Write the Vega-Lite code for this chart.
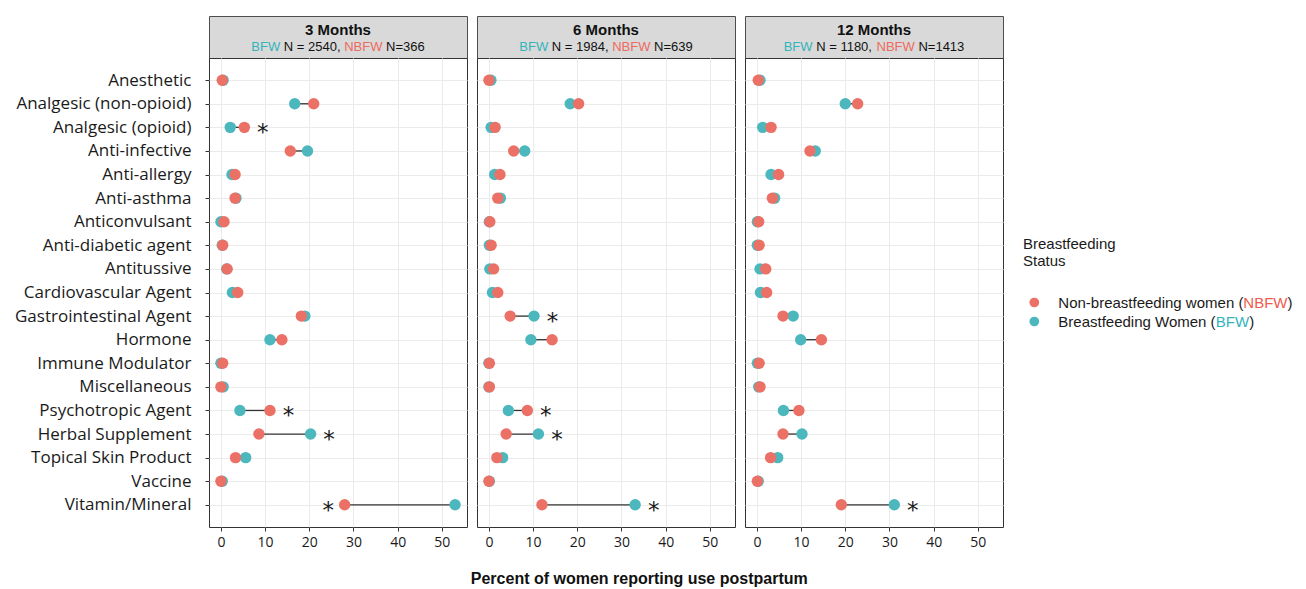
{
  "$schema": "https://vega.github.io/schema/vega-lite/v6.json",
  "background": "white",
  "padding": {"left": 13, "top": 15, "right": 4, "bottom": 0},
  "bounds": "full",
  "spacing": 8,
  "title": {"text": "Percent of women reporting use postpartum", "orient": "bottom", "anchor": "middle", "frame": "bounds", "font": "Liberation Sans", "fontSize": 16, "fontWeight": "bold", "color": "#111111", "offset": 21, "dx": -14},
  "resolve": {"scale": {"x": "independent", "y": "independent", "color": "independent"}},
  "datasets": {
    "d": [
      {"period": "3 Months", "category": "Anesthetic", "BFW": 0.5, "NBFW": 0.3, "star": ""},
      {"period": "3 Months", "category": "Analgesic (non-opioid)", "BFW": 16.7, "NBFW": 21.0, "star": ""},
      {"period": "3 Months", "category": "Analgesic (opioid)", "BFW": 2.1, "NBFW": 5.3, "star": "right"},
      {"period": "3 Months", "category": "Anti-infective", "BFW": 19.6, "NBFW": 15.7, "star": ""},
      {"period": "3 Months", "category": "Anti-allergy", "BFW": 2.5, "NBFW": 3.2, "star": ""},
      {"period": "3 Months", "category": "Anti-asthma", "BFW": 3.4, "NBFW": 3.2, "star": ""},
      {"period": "3 Months", "category": "Anticonvulsant", "BFW": 0.0, "NBFW": 0.7, "star": ""},
      {"period": "3 Months", "category": "Anti-diabetic agent", "BFW": 0.3, "NBFW": 0.4, "star": ""},
      {"period": "3 Months", "category": "Antitussive", "BFW": 1.3, "NBFW": 1.4, "star": ""},
      {"period": "3 Months", "category": "Cardiovascular Agent", "BFW": 2.6, "NBFW": 3.8, "star": ""},
      {"period": "3 Months", "category": "Gastrointestinal Agent", "BFW": 19.0, "NBFW": 18.2, "star": ""},
      {"period": "3 Months", "category": "Hormone", "BFW": 11.1, "NBFW": 13.8, "star": ""},
      {"period": "3 Months", "category": "Immune Modulator", "BFW": 0.0, "NBFW": 0.4, "star": ""},
      {"period": "3 Months", "category": "Miscellaneous", "BFW": 0.5, "NBFW": 0.0, "star": ""},
      {"period": "3 Months", "category": "Psychotropic Agent", "BFW": 4.3, "NBFW": 11.1, "star": "right"},
      {"period": "3 Months", "category": "Herbal Supplement", "BFW": 20.3, "NBFW": 8.6, "star": "right"},
      {"period": "3 Months", "category": "Topical Skin Product", "BFW": 5.6, "NBFW": 3.3, "star": ""},
      {"period": "3 Months", "category": "Vaccine", "BFW": 0.3, "NBFW": 0.0, "star": ""},
      {"period": "3 Months", "category": "Vitamin/Mineral", "BFW": 53.0, "NBFW": 28.0, "star": "left"},
      {"period": "6 Months", "category": "Anesthetic", "BFW": 0.45, "NBFW": 0.0, "star": ""},
      {"period": "6 Months", "category": "Analgesic (non-opioid)", "BFW": 18.4, "NBFW": 20.3, "star": ""},
      {"period": "6 Months", "category": "Analgesic (opioid)", "BFW": 0.5, "NBFW": 1.4, "star": ""},
      {"period": "6 Months", "category": "Anti-infective", "BFW": 8.1, "NBFW": 5.6, "star": ""},
      {"period": "6 Months", "category": "Anti-allergy", "BFW": 1.3, "NBFW": 2.5, "star": ""},
      {"period": "6 Months", "category": "Anti-asthma", "BFW": 2.6, "NBFW": 2.0, "star": ""},
      {"period": "6 Months", "category": "Anticonvulsant", "BFW": 0.1, "NBFW": 0.2, "star": ""},
      {"period": "6 Months", "category": "Anti-diabetic agent", "BFW": 0.1, "NBFW": 0.5, "star": ""},
      {"period": "6 Months", "category": "Antitussive", "BFW": 0.2, "NBFW": 1.05, "star": ""},
      {"period": "6 Months", "category": "Cardiovascular Agent", "BFW": 0.8, "NBFW": 2.0, "star": ""},
      {"period": "6 Months", "category": "Gastrointestinal Agent", "BFW": 10.2, "NBFW": 4.8, "star": "right"},
      {"period": "6 Months", "category": "Hormone", "BFW": 9.5, "NBFW": 14.3, "star": ""},
      {"period": "6 Months", "category": "Immune Modulator", "BFW": 0.0, "NBFW": 0.1, "star": ""},
      {"period": "6 Months", "category": "Miscellaneous", "BFW": 0.0, "NBFW": 0.1, "star": ""},
      {"period": "6 Months", "category": "Psychotropic Agent", "BFW": 4.4, "NBFW": 8.7, "star": "right"},
      {"period": "6 Months", "category": "Herbal Supplement", "BFW": 11.2, "NBFW": 3.9, "star": "right"},
      {"period": "6 Months", "category": "Topical Skin Product", "BFW": 3.1, "NBFW": 1.8, "star": ""},
      {"period": "6 Months", "category": "Vaccine", "BFW": 0.1, "NBFW": 0.0, "star": ""},
      {"period": "6 Months", "category": "Vitamin/Mineral", "BFW": 33.1, "NBFW": 12.0, "star": "right"},
      {"period": "12 Months", "category": "Anesthetic", "BFW": 0.7, "NBFW": 0.3, "star": ""},
      {"period": "12 Months", "category": "Analgesic (non-opioid)", "BFW": 20.0, "NBFW": 22.8, "star": ""},
      {"period": "12 Months", "category": "Analgesic (opioid)", "BFW": 1.3, "NBFW": 3.2, "star": ""},
      {"period": "12 Months", "category": "Anti-infective", "BFW": 13.2, "NBFW": 12.0, "star": ""},
      {"period": "12 Months", "category": "Anti-allergy", "BFW": 3.2, "NBFW": 4.9, "star": ""},
      {"period": "12 Months", "category": "Anti-asthma", "BFW": 4.0, "NBFW": 3.5, "star": ""},
      {"period": "12 Months", "category": "Anticonvulsant", "BFW": 0.1, "NBFW": 0.4, "star": ""},
      {"period": "12 Months", "category": "Anti-diabetic agent", "BFW": 0.1, "NBFW": 0.5, "star": ""},
      {"period": "12 Months", "category": "Antitussive", "BFW": 0.7, "NBFW": 2.0, "star": ""},
      {"period": "12 Months", "category": "Cardiovascular Agent", "BFW": 0.8, "NBFW": 2.2, "star": ""},
      {"period": "12 Months", "category": "Gastrointestinal Agent", "BFW": 8.2, "NBFW": 5.9, "star": ""},
      {"period": "12 Months", "category": "Hormone", "BFW": 9.9, "NBFW": 14.6, "star": ""},
      {"period": "12 Months", "category": "Immune Modulator", "BFW": 0.1, "NBFW": 0.5, "star": ""},
      {"period": "12 Months", "category": "Miscellaneous", "BFW": 0.4, "NBFW": 0.7, "star": ""},
      {"period": "12 Months", "category": "Psychotropic Agent", "BFW": 6.0, "NBFW": 9.5, "star": ""},
      {"period": "12 Months", "category": "Herbal Supplement", "BFW": 10.2, "NBFW": 5.9, "star": ""},
      {"period": "12 Months", "category": "Topical Skin Product", "BFW": 4.7, "NBFW": 3.1, "star": ""},
      {"period": "12 Months", "category": "Vaccine", "BFW": 0.3, "NBFW": 0.1, "star": ""},
      {"period": "12 Months", "category": "Vitamin/Mineral", "BFW": 31.1, "NBFW": 19.1, "star": "right"}
    ],
    "hdr": [
      {"period": "3 Months", "line": "title", "part": "title", "text": "3 Months"},
      {"period": "3 Months", "line": "sub", "part": "bfw", "text": "BFW"},
      {"period": "3 Months", "line": "sub", "part": "n1", "text": "N = 2540,"},
      {"period": "3 Months", "line": "sub", "part": "nbfw", "text": "NBFW"},
      {"period": "3 Months", "line": "sub", "part": "n2", "text": "N=366"},
      {"period": "6 Months", "line": "title", "part": "title", "text": "6 Months"},
      {"period": "6 Months", "line": "sub", "part": "bfw", "text": "BFW"},
      {"period": "6 Months", "line": "sub", "part": "n1", "text": "N = 1984,"},
      {"period": "6 Months", "line": "sub", "part": "nbfw", "text": "NBFW"},
      {"period": "6 Months", "line": "sub", "part": "n2", "text": "N=639"},
      {"period": "12 Months", "line": "title", "part": "title", "text": "12 Months"},
      {"period": "12 Months", "line": "sub", "part": "bfw", "text": "BFW"},
      {"period": "12 Months", "line": "sub", "part": "n1", "text": "N = 1180,"},
      {"period": "12 Months", "line": "sub", "part": "nbfw", "text": "NBFW"},
      {"period": "12 Months", "line": "sub", "part": "n2", "text": "N=1413"}
    ],
    "leg": [
      {"group": "NBFW"},
      {"group": "BFW"}
    ]
  },
  "hconcat": [
    {
      "bounds": "flush", "spacing": 0,
      "resolve": {"scale": {"x": "independent", "y": "independent"}},
      "vconcat": [
        {
          "width": 258, "height": 42,
          "view": {"fill": "#d9d9d9", "stroke": "#4d4d4d", "strokeWidth": 1},
          "data": {"name": "hdr"},
          "transform": [{"filter": "datum.period == '3 Months'"}],
          "encoding": {"y": {"field": "line", "type": "nominal", "scale": {"type": "point", "domain": ["title", "sub"], "padding": 0.757}, "axis": null}, "text": {"field": "text", "type": "nominal"}},
          "layer": [
            {"transform": [{"filter": "datum.part == 'title'"}], "mark": {"type": "text", "font": "Liberation Sans", "fontSize": 15, "fontWeight": "bold", "color": "#111111", "baseline": "middle", "align": "center", "dy": 1.4}},
            {"transform": [{"filter": "datum.part == 'bfw'"}], "mark": {"type": "text", "font": "Liberation Sans", "fontSize": 13, "color": "#33b4bb", "baseline": "middle", "align": "left", "dx": -86.7, "dy": 1.4}},
            {"transform": [{"filter": "datum.part == 'n1'"}], "mark": {"type": "text", "font": "Liberation Sans", "fontSize": 13, "color": "#111111", "baseline": "middle", "align": "left", "dx": -54.2, "dy": 1.4}},
            {"transform": [{"filter": "datum.part == 'nbfw'"}], "mark": {"type": "text", "font": "Liberation Sans", "fontSize": 13, "color": "#ee6a5e", "baseline": "middle", "align": "left", "dx": 6.15, "dy": 1.4}},
            {"transform": [{"filter": "datum.part == 'n2'"}], "mark": {"type": "text", "font": "Liberation Sans", "fontSize": 13, "color": "#111111", "baseline": "middle", "align": "left", "dx": 48.03, "dy": 1.4}}
          ]
        },
        {
          "width": 258, "height": 469,
          "view": {"stroke": "#333333", "strokeWidth": 1},
          "data": {"name": "d"},
          "transform": [{"filter": "datum.period == '3 Months'"}, {"fold": ["BFW", "NBFW"], "as": ["group", "value"]}],
          "encoding": {
            "y": {"field": "category", "type": "nominal",
              "scale": {"type": "point", "padding": 0.94, "domain": ["Anesthetic", "Analgesic (non-opioid)", "Analgesic (opioid)", "Anti-infective", "Anti-allergy", "Anti-asthma", "Anticonvulsant", "Anti-diabetic agent", "Antitussive", "Cardiovascular Agent", "Gastrointestinal Agent", "Hormone", "Immune Modulator", "Miscellaneous", "Psychotropic Agent", "Herbal Supplement", "Topical Skin Product", "Vaccine", "Vitamin/Mineral"]},
              "axis": {"title": null, "labelFont": "Open Sans", "labelFontSize": 17, "labelColor": "#1a1a1a", "tickSize": 4, "tickColor": "#333333", "labelPadding": 14, "domain": false, "grid": true, "gridColor": "#ebebeb", "gridWidth": 1, "labelLimit": 400}}
          },
          "layer": [
            {"mark": {"type": "rule", "color": "#333333", "strokeWidth": 1.3},
              "encoding": {
                "x": {"aggregate": "min", "field": "value", "type": "quantitative", "scale": {"domain": [-2.7, 55.7], "nice": false, "zero": false},
                  "axis": {"title": null, "values": [0, 10, 20, 30, 40, 50], "labelFont": "Open Sans", "labelFontSize": 14, "labelColor": "#1a1a1a", "tickSize": 4, "tickColor": "#333333", "labelPadding": 4, "domain": false, "grid": true, "gridColor": "#ebebeb", "gridWidth": 1, "labelFlush": false}},
                "x2": {"aggregate": "max", "field": "value"}}},
            {"mark": {"type": "point", "filled": true, "size": 130, "opacity": 1},
              "encoding": {
                "x": {"field": "value", "type": "quantitative", "scale": {"domain": [-2.7, 55.7], "nice": false, "zero": false},
                  "axis": {"title": null, "values": [0, 10, 20, 30, 40, 50], "labelFont": "Open Sans", "labelFontSize": 14, "labelColor": "#1a1a1a", "tickSize": 4, "tickColor": "#333333", "labelPadding": 4, "domain": false, "grid": true, "gridColor": "#ebebeb", "gridWidth": 1, "labelFlush": false}},
                "color": {"field": "group", "type": "nominal", "scale": {"domain": ["NBFW", "BFW"], "range": ["#eb7167", "#4cb8be"]}, "legend": null}}},
            {"transform": [{"filter": "datum.star == 'right'"}],
              "mark": {"type": "text", "text": "*", "font": "DejaVu Sans", "fontSize": 23, "color": "#1a1a1a", "align": "center", "baseline": "alphabetic", "dx": 18.5, "dy": 13},
              "encoding": {"x": {"aggregate": "max", "field": "value", "type": "quantitative", "scale": {"domain": [-2.7, 55.7], "nice": false, "zero": false}, "axis": {"title": null, "values": [0, 10, 20, 30, 40, 50], "labelFont": "Open Sans", "labelFontSize": 14, "labelColor": "#1a1a1a", "tickSize": 4, "tickColor": "#333333", "labelPadding": 4, "domain": false, "grid": true, "gridColor": "#ebebeb", "gridWidth": 1, "labelFlush": false}}}},
            {"transform": [{"filter": "datum.star == 'left'"}],
              "mark": {"type": "text", "text": "*", "font": "DejaVu Sans", "fontSize": 23, "color": "#1a1a1a", "align": "center", "baseline": "alphabetic", "dx": -16.5, "dy": 13},
              "encoding": {"x": {"aggregate": "min", "field": "value", "type": "quantitative", "scale": {"domain": [-2.7, 55.7], "nice": false, "zero": false}, "axis": {"title": null, "values": [0, 10, 20, 30, 40, 50], "labelFont": "Open Sans", "labelFontSize": 14, "labelColor": "#1a1a1a", "tickSize": 4, "tickColor": "#333333", "labelPadding": 4, "domain": false, "grid": true, "gridColor": "#ebebeb", "gridWidth": 1, "labelFlush": false}}}}
          ]
        }
      ]
    },
    {
      "bounds": "flush", "spacing": 0,
      "resolve": {"scale": {"x": "independent", "y": "independent"}},
      "vconcat": [
        {
          "width": 258, "height": 42,
          "view": {"fill": "#d9d9d9", "stroke": "#4d4d4d", "strokeWidth": 1},
          "data": {"name": "hdr"},
          "transform": [{"filter": "datum.period == '6 Months'"}],
          "encoding": {"y": {"field": "line", "type": "nominal", "scale": {"type": "point", "domain": ["title", "sub"], "padding": 0.757}, "axis": null}, "text": {"field": "text", "type": "nominal"}},
          "layer": [
            {"transform": [{"filter": "datum.part == 'title'"}], "mark": {"type": "text", "font": "Liberation Sans", "fontSize": 15, "fontWeight": "bold", "color": "#111111", "baseline": "middle", "align": "center", "dy": 1.4}},
            {"transform": [{"filter": "datum.part == 'bfw'"}], "mark": {"type": "text", "font": "Liberation Sans", "fontSize": 13, "color": "#33b4bb", "baseline": "middle", "align": "left", "dx": -86.7, "dy": 1.4}},
            {"transform": [{"filter": "datum.part == 'n1'"}], "mark": {"type": "text", "font": "Liberation Sans", "fontSize": 13, "color": "#111111", "baseline": "middle", "align": "left", "dx": -54.2, "dy": 1.4}},
            {"transform": [{"filter": "datum.part == 'nbfw'"}], "mark": {"type": "text", "font": "Liberation Sans", "fontSize": 13, "color": "#ee6a5e", "baseline": "middle", "align": "left", "dx": 6.15, "dy": 1.4}},
            {"transform": [{"filter": "datum.part == 'n2'"}], "mark": {"type": "text", "font": "Liberation Sans", "fontSize": 13, "color": "#111111", "baseline": "middle", "align": "left", "dx": 48.03, "dy": 1.4}}
          ]
        },
        {
          "width": 258, "height": 469,
          "view": {"stroke": "#333333", "strokeWidth": 1},
          "data": {"name": "d"},
          "transform": [{"filter": "datum.period == '6 Months'"}, {"fold": ["BFW", "NBFW"], "as": ["group", "value"]}],
          "encoding": {
            "y": {"field": "category", "type": "nominal",
              "scale": {"type": "point", "padding": 0.94, "domain": ["Anesthetic", "Analgesic (non-opioid)", "Analgesic (opioid)", "Anti-infective", "Anti-allergy", "Anti-asthma", "Anticonvulsant", "Anti-diabetic agent", "Antitussive", "Cardiovascular Agent", "Gastrointestinal Agent", "Hormone", "Immune Modulator", "Miscellaneous", "Psychotropic Agent", "Herbal Supplement", "Topical Skin Product", "Vaccine", "Vitamin/Mineral"]},
              "axis": {"title": null, "labels": false, "ticks": false, "domain": false, "grid": true, "gridColor": "#ebebeb", "gridWidth": 1}}
          },
          "layer": [
            {"mark": {"type": "rule", "color": "#333333", "strokeWidth": 1.3},
              "encoding": {
                "x": {"aggregate": "min", "field": "value", "type": "quantitative", "scale": {"domain": [-2.7, 55.7], "nice": false, "zero": false},
                  "axis": {"title": null, "values": [0, 10, 20, 30, 40, 50], "labelFont": "Open Sans", "labelFontSize": 14, "labelColor": "#1a1a1a", "tickSize": 4, "tickColor": "#333333", "labelPadding": 4, "domain": false, "grid": true, "gridColor": "#ebebeb", "gridWidth": 1, "labelFlush": false}},
                "x2": {"aggregate": "max", "field": "value"}}},
            {"mark": {"type": "point", "filled": true, "size": 130, "opacity": 1},
              "encoding": {
                "x": {"field": "value", "type": "quantitative", "scale": {"domain": [-2.7, 55.7], "nice": false, "zero": false},
                  "axis": {"title": null, "values": [0, 10, 20, 30, 40, 50], "labelFont": "Open Sans", "labelFontSize": 14, "labelColor": "#1a1a1a", "tickSize": 4, "tickColor": "#333333", "labelPadding": 4, "domain": false, "grid": true, "gridColor": "#ebebeb", "gridWidth": 1, "labelFlush": false}},
                "color": {"field": "group", "type": "nominal", "scale": {"domain": ["NBFW", "BFW"], "range": ["#eb7167", "#4cb8be"]}, "legend": null}}},
            {"transform": [{"filter": "datum.star == 'right'"}],
              "mark": {"type": "text", "text": "*", "font": "DejaVu Sans", "fontSize": 23, "color": "#1a1a1a", "align": "center", "baseline": "alphabetic", "dx": 18.5, "dy": 13},
              "encoding": {"x": {"aggregate": "max", "field": "value", "type": "quantitative", "scale": {"domain": [-2.7, 55.7], "nice": false, "zero": false}, "axis": {"title": null, "values": [0, 10, 20, 30, 40, 50], "labelFont": "Open Sans", "labelFontSize": 14, "labelColor": "#1a1a1a", "tickSize": 4, "tickColor": "#333333", "labelPadding": 4, "domain": false, "grid": true, "gridColor": "#ebebeb", "gridWidth": 1, "labelFlush": false}}}}
          ]
        }
      ]
    },
    {
      "bounds": "flush", "spacing": 0,
      "resolve": {"scale": {"x": "independent", "y": "independent"}},
      "vconcat": [
        {
          "width": 258, "height": 42,
          "view": {"fill": "#d9d9d9", "stroke": "#4d4d4d", "strokeWidth": 1},
          "data": {"name": "hdr"},
          "transform": [{"filter": "datum.period == '12 Months'"}],
          "encoding": {"y": {"field": "line", "type": "nominal", "scale": {"type": "point", "domain": ["title", "sub"], "padding": 0.757}, "axis": null}, "text": {"field": "text", "type": "nominal"}},
          "layer": [
            {"transform": [{"filter": "datum.part == 'title'"}], "mark": {"type": "text", "font": "Liberation Sans", "fontSize": 15, "fontWeight": "bold", "color": "#111111", "baseline": "middle", "align": "center", "dy": 1.4}},
            {"transform": [{"filter": "datum.part == 'bfw'"}], "mark": {"type": "text", "font": "Liberation Sans", "fontSize": 13, "color": "#33b4bb", "baseline": "middle", "align": "left", "dx": -90.31, "dy": 1.4}},
            {"transform": [{"filter": "datum.part == 'n1'"}], "mark": {"type": "text", "font": "Liberation Sans", "fontSize": 13, "color": "#111111", "baseline": "middle", "align": "left", "dx": -57.81, "dy": 1.4}},
            {"transform": [{"filter": "datum.part == 'nbfw'"}], "mark": {"type": "text", "font": "Liberation Sans", "fontSize": 13, "color": "#ee6a5e", "baseline": "middle", "align": "left", "dx": 2.54, "dy": 1.4}},
            {"transform": [{"filter": "datum.part == 'n2'"}], "mark": {"type": "text", "font": "Liberation Sans", "fontSize": 13, "color": "#111111", "baseline": "middle", "align": "left", "dx": 44.42, "dy": 1.4}}
          ]
        },
        {
          "width": 258, "height": 469,
          "view": {"stroke": "#333333", "strokeWidth": 1},
          "data": {"name": "d"},
          "transform": [{"filter": "datum.period == '12 Months'"}, {"fold": ["BFW", "NBFW"], "as": ["group", "value"]}],
          "encoding": {
            "y": {"field": "category", "type": "nominal",
              "scale": {"type": "point", "padding": 0.94, "domain": ["Anesthetic", "Analgesic (non-opioid)", "Analgesic (opioid)", "Anti-infective", "Anti-allergy", "Anti-asthma", "Anticonvulsant", "Anti-diabetic agent", "Antitussive", "Cardiovascular Agent", "Gastrointestinal Agent", "Hormone", "Immune Modulator", "Miscellaneous", "Psychotropic Agent", "Herbal Supplement", "Topical Skin Product", "Vaccine", "Vitamin/Mineral"]},
              "axis": {"title": null, "labels": false, "ticks": false, "domain": false, "grid": true, "gridColor": "#ebebeb", "gridWidth": 1}}
          },
          "layer": [
            {"mark": {"type": "rule", "color": "#333333", "strokeWidth": 1.3},
              "encoding": {
                "x": {"aggregate": "min", "field": "value", "type": "quantitative", "scale": {"domain": [-2.7, 55.7], "nice": false, "zero": false},
                  "axis": {"title": null, "values": [0, 10, 20, 30, 40, 50], "labelFont": "Open Sans", "labelFontSize": 14, "labelColor": "#1a1a1a", "tickSize": 4, "tickColor": "#333333", "labelPadding": 4, "domain": false, "grid": true, "gridColor": "#ebebeb", "gridWidth": 1, "labelFlush": false}},
                "x2": {"aggregate": "max", "field": "value"}}},
            {"mark": {"type": "point", "filled": true, "size": 130, "opacity": 1},
              "encoding": {
                "x": {"field": "value", "type": "quantitative", "scale": {"domain": [-2.7, 55.7], "nice": false, "zero": false},
                  "axis": {"title": null, "values": [0, 10, 20, 30, 40, 50], "labelFont": "Open Sans", "labelFontSize": 14, "labelColor": "#1a1a1a", "tickSize": 4, "tickColor": "#333333", "labelPadding": 4, "domain": false, "grid": true, "gridColor": "#ebebeb", "gridWidth": 1, "labelFlush": false}},
                "color": {"field": "group", "type": "nominal", "scale": {"domain": ["NBFW", "BFW"], "range": ["#eb7167", "#4cb8be"]}, "legend": null}}},
            {"transform": [{"filter": "datum.star == 'right'"}],
              "mark": {"type": "text", "text": "*", "font": "DejaVu Sans", "fontSize": 23, "color": "#1a1a1a", "align": "center", "baseline": "alphabetic", "dx": 18.5, "dy": 13},
              "encoding": {"x": {"aggregate": "max", "field": "value", "type": "quantitative", "scale": {"domain": [-2.7, 55.7], "nice": false, "zero": false}, "axis": {"title": null, "values": [0, 10, 20, 30, 40, 50], "labelFont": "Open Sans", "labelFontSize": 14, "labelColor": "#1a1a1a", "tickSize": 4, "tickColor": "#333333", "labelPadding": 4, "domain": false, "grid": true, "gridColor": "#ebebeb", "gridWidth": 1, "labelFlush": false}}}}
          ]
        }
      ]
    },
    {
      "bounds": "flush", "spacing": 0,
      "resolve": {"scale": {"x": "independent", "y": "independent"}},
      "vconcat": [
        {"width": 10, "height": 277, "view": {"stroke": null}, "data": {"values": [{}]}, "mark": {"type": "point", "opacity": 0}},
        {
          "width": 68.6, "height": 38,
          "view": {"stroke": null},
          "title": {"text": ["Breastfeeding", "Status"], "anchor": "start", "font": "Liberation Sans", "fontSize": 15, "fontWeight": "normal", "color": "#1a1a1a", "baseline": "bottom", "offset": 9, "dx": 11, "lineHeight": 17},
          "data": {"name": "leg"},
          "encoding": {"y": {"field": "group", "type": "nominal", "scale": {"type": "point", "domain": ["NBFW", "BFW"], "padding": 0.5}, "axis": null}},
          "layer": [
            {"mark": {"type": "point", "filled": true, "size": 95, "opacity": 1},
              "encoding": {
                "x": {"datum": "sym", "type": "nominal", "scale": {"type": "point", "domain": ["sym", "lab"], "padding": 0.93}, "axis": null},
                "color": {"field": "group", "type": "nominal", "scale": {"domain": ["NBFW", "BFW"], "range": ["#eb7167", "#4cb8be"]}, "legend": null}}},
            {"transform": [{"filter": "datum.group == 'NBFW'"}], "mark": {"type": "text", "text": "Non-breastfeeding women (", "font": "Liberation Sans", "fontSize": 15, "color": "#1a1a1a", "align": "left", "baseline": "middle", "dx": 0},
              "encoding": {"x": {"datum": "lab", "type": "nominal", "scale": {"type": "point", "domain": ["sym", "lab"], "padding": 0.93}, "axis": null}}},
            {"transform": [{"filter": "datum.group == 'NBFW'"}], "mark": {"type": "text", "text": "NBFW", "font": "Liberation Sans", "fontSize": 15, "color": "#ee5a4e", "align": "left", "baseline": "middle", "dx": 185.07},
              "encoding": {"x": {"datum": "lab", "type": "nominal", "scale": {"type": "point", "domain": ["sym", "lab"], "padding": 0.93}, "axis": null}}},
            {"transform": [{"filter": "datum.group == 'NBFW'"}], "mark": {"type": "text", "text": ")", "font": "Liberation Sans", "fontSize": 15, "color": "#1a1a1a", "align": "left", "baseline": "middle", "dx": 229.23},
              "encoding": {"x": {"datum": "lab", "type": "nominal", "scale": {"type": "point", "domain": ["sym", "lab"], "padding": 0.93}, "axis": null}}},
            {"transform": [{"filter": "datum.group == 'BFW'"}], "mark": {"type": "text", "text": "Breastfeeding Women (", "font": "Liberation Sans", "fontSize": 15, "color": "#1a1a1a", "align": "left", "baseline": "middle", "dx": 0},
              "encoding": {"x": {"datum": "lab", "type": "nominal", "scale": {"type": "point", "domain": ["sym", "lab"], "padding": 0.93}, "axis": null}}},
            {"transform": [{"filter": "datum.group == 'BFW'"}], "mark": {"type": "text", "text": "BFW", "font": "Liberation Sans", "fontSize": 15, "color": "#33b4bb", "align": "left", "baseline": "middle", "dx": 157.56},
              "encoding": {"x": {"datum": "lab", "type": "nominal", "scale": {"type": "point", "domain": ["sym", "lab"], "padding": 0.93}, "axis": null}}},
            {"transform": [{"filter": "datum.group == 'BFW'"}], "mark": {"type": "text", "text": ")", "font": "Liberation Sans", "fontSize": 15, "color": "#1a1a1a", "align": "left", "baseline": "middle", "dx": 190.89},
              "encoding": {"x": {"datum": "lab", "type": "nominal", "scale": {"type": "point", "domain": ["sym", "lab"], "padding": 0.93}, "axis": null}}}
          ]
        }
      ]
    }
  ]
}
